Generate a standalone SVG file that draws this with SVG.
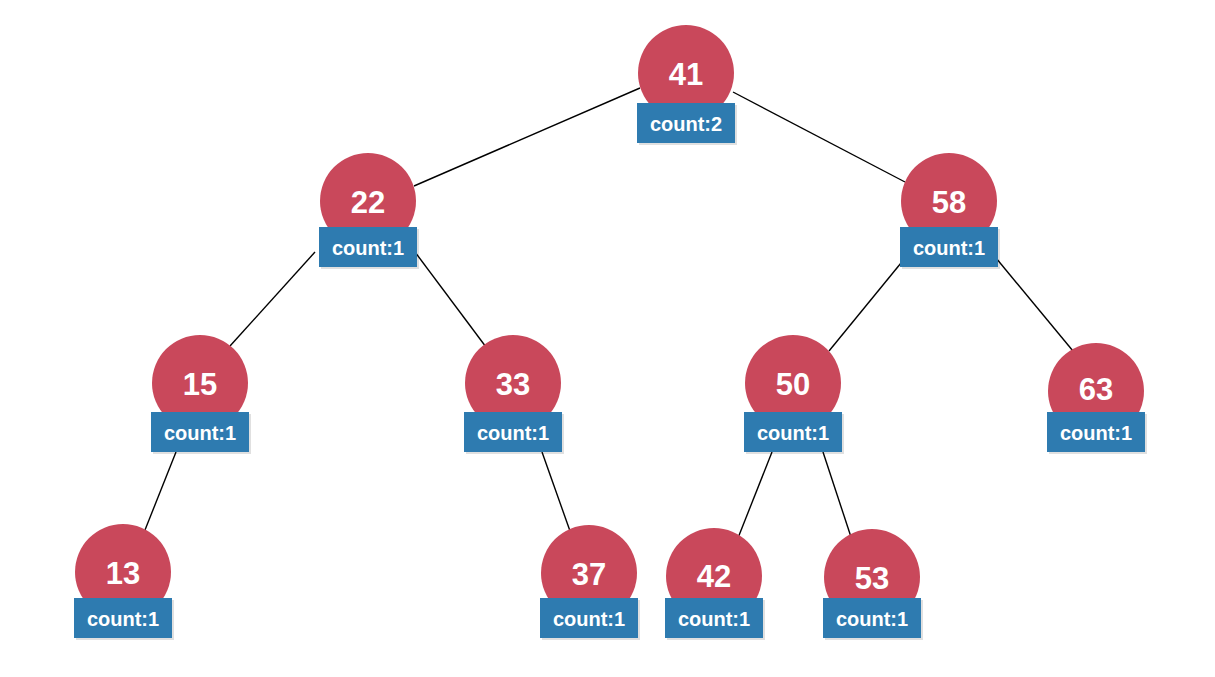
<svg xmlns="http://www.w3.org/2000/svg" width="1215" height="677" viewBox="0 0 1215 677">
<defs>
<style>
.c{fill:#C9485B;}
.r{fill:#2E7BB0;}
.sh{fill:#000;opacity:0.12;}
.n{font-family:"Liberation Sans",Arial,sans-serif;font-weight:bold;font-size:31px;fill:#fff;text-anchor:middle;}
.t{font-family:"Liberation Sans",Arial,sans-serif;font-weight:bold;font-size:20px;fill:#fff;text-anchor:middle;}
.e{stroke:#000;stroke-width:1.4;fill:none;}
</style>
</defs>
<rect width="1215" height="677" fill="#fff"/>
<g id="edges">
<line class="e" x1="640" y1="88" x2="414" y2="186"/>
<line class="e" x1="733" y1="92" x2="905" y2="182"/>
<line class="e" x1="315" y1="252" x2="230" y2="346"/>
<line class="e" x1="415" y1="252" x2="486" y2="347"/>
<line class="e" x1="901" y1="263" x2="829" y2="351"/>
<line class="e" x1="996" y1="258" x2="1073" y2="351"/>
<line class="e" x1="176" y1="452" x2="145" y2="530"/>
<line class="e" x1="542" y1="452" x2="570" y2="531"/>
<line class="e" x1="772" y1="452" x2="738" y2="538"/>
<line class="e" x1="823" y1="452" x2="852" y2="540"/>
</g>
<g id="n41">
<circle class="c" cx="686" cy="73" r="48"/>
<rect class="sh" x="639" y="105" width="98" height="40"/>
<rect class="r" x="637" y="103" width="98" height="40"/>
<text class="n" x="686" y="85">41</text>
<text class="t" x="686" y="131">count:2</text>
</g>
<g id="n22">
<circle class="c" cx="368" cy="201" r="48"/>
<rect class="sh" x="321" y="229" width="98" height="40"/>
<rect class="r" x="319" y="227" width="98" height="40"/>
<text class="n" x="368" y="213">22</text>
<text class="t" x="368" y="255">count:1</text>
</g>
<g id="n58">
<circle class="c" cx="949" cy="201" r="48"/>
<rect class="sh" x="902" y="229" width="98" height="40"/>
<rect class="r" x="900" y="227" width="98" height="40"/>
<text class="n" x="949" y="213">58</text>
<text class="t" x="949" y="255">count:1</text>
</g>
<g id="n15">
<circle class="c" cx="200" cy="383" r="48"/>
<rect class="sh" x="153" y="414" width="98" height="40"/>
<rect class="r" x="151" y="412" width="98" height="40"/>
<text class="n" x="200" y="395">15</text>
<text class="t" x="200" y="440">count:1</text>
</g>
<g id="n33">
<circle class="c" cx="513" cy="383" r="48"/>
<rect class="sh" x="466" y="414" width="98" height="40"/>
<rect class="r" x="464" y="412" width="98" height="40"/>
<text class="n" x="513" y="395">33</text>
<text class="t" x="513" y="440">count:1</text>
</g>
<g id="n50">
<circle class="c" cx="793" cy="383" r="48"/>
<rect class="sh" x="746" y="414" width="98" height="40"/>
<rect class="r" x="744" y="412" width="98" height="40"/>
<text class="n" x="793" y="395">50</text>
<text class="t" x="793" y="440">count:1</text>
</g>
<g id="n63">
<circle class="c" cx="1096" cy="391" r="48"/>
<rect class="sh" x="1049" y="414" width="98" height="40"/>
<rect class="r" x="1047" y="412" width="98" height="40"/>
<text class="n" x="1096" y="400">63</text>
<text class="t" x="1096" y="440">count:1</text>
</g>
<g id="n13">
<circle class="c" cx="123" cy="572" r="48"/>
<rect class="sh" x="76" y="600" width="98" height="40"/>
<rect class="r" x="74" y="598" width="98" height="40"/>
<text class="n" x="123" y="584">13</text>
<text class="t" x="123" y="626">count:1</text>
</g>
<g id="n37">
<circle class="c" cx="589" cy="573" r="48"/>
<rect class="sh" x="542" y="600" width="98" height="40"/>
<rect class="r" x="540" y="598" width="98" height="40"/>
<text class="n" x="589" y="585">37</text>
<text class="t" x="589" y="626">count:1</text>
</g>
<g id="n42">
<circle class="c" cx="714" cy="576" r="48"/>
<rect class="sh" x="667" y="600" width="98" height="40"/>
<rect class="r" x="665" y="598" width="98" height="40"/>
<text class="n" x="714" y="587">42</text>
<text class="t" x="714" y="626">count:1</text>
</g>
<g id="n53">
<circle class="c" cx="872" cy="577" r="48"/>
<rect class="sh" x="825" y="600" width="98" height="40"/>
<rect class="r" x="823" y="598" width="98" height="40"/>
<text class="n" x="872" y="589">53</text>
<text class="t" x="872" y="626">count:1</text>
</g>
</svg>
